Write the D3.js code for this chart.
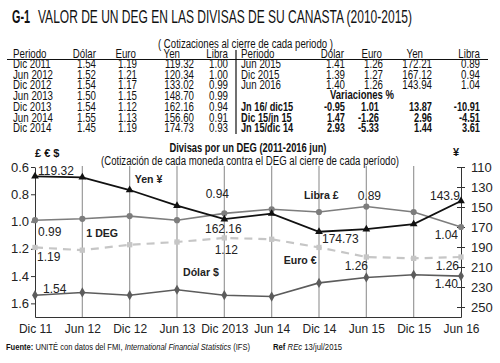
<!DOCTYPE html>
<html>
<head>
<meta charset="utf-8">
<script src="https://cdn.jsdelivr.net/npm/d3@7"></script>
<style>
  body { margin: 0; background: #fff; }
  svg text { font-family: "Liberation Sans", Arial, sans-serif; fill: #111; }
</style>
</head>
<body>
<div id="viz_container"></div>
<script>
// chart data
const periods = ["Dic 11", "Jun 12", "Dic 12", "Jun 13", "Dic 2013", "Jun 14", "Dic 14", "Jun 15", "Dic 15", "Jun 16"];
const yen   = [119.32, 120.34, 133.02, 148.70, 162.16, 156.60, 174.73, 172.21, 167.12, 143.94];
const libra = [0.99, 0.98, 0.96, 0.99, 0.94, 0.91, 0.93, 0.89, 0.93, 1.04];
const euro  = [1.19, 1.21, 1.17, 1.15, 1.12, 1.13, 1.19, 1.26, 1.27, 1.26];
const dolar = [1.54, 1.52, 1.54, 1.50, 1.54, 1.55, 1.45, 1.41, 1.39, 1.40];
const leftTicks  = [0.6, 0.8, 1.0, 1.2, 1.4, 1.6];
const rightTicks = [110, 130, 150, 170, 190, 210, 230, 250];

// table data
const tHead    = ["Periodo", "Dólar", "Euro", "Yen", "Libra"];
const tPeriods = ["Dic 2011", "Jun 2012", "Dic 2012", "Jun 2013", "Dic 2013", "Jun 2014", "Dic 2014"];
const tDolar   = ["1.54", "1.52", "1.54", "1.50", "1.54", "1.55", "1.45"];
const tEuro    = ["1.19", "1.21", "1.17", "1.15", "1.12", "1.13", "1.19"];
const tYen     = ["119.32", "120.34", "133.02", "148.70", "162.16", "156.60", "174.73"];
const tLibra   = ["1.00", "1.00", "0.99", "0.99", "0.94", "0.91", "0.93"];
const t2Periods = ["Jun 2015", "Dic 2015", "Jun 2016"];
const t2Dolar   = ["1.41", "1.39", "1.40"];
const t2Euro    = ["1.26", "1.27", "1.26"];
const t2Yen     = ["172.21", "167.12", "143.94"];
const t2Libra   = ["0.89", "0.94", "1.04"];
const varPeriods = ["Jn 16/ dic15", "Dic 15/jn 15", "Jn 15/dic 14"];
const varDolar   = ["-0.95", "1.47", "2.93"];
const varEuro    = ["1.01", "-1.26", "-5.33"];
const varYen     = ["13.87", "2.96", "1.44"];
const varLibra   = ["-10.91", "-4.51", "3.61"];

const W = 500, H = 363;
const svg = d3.select("#viz_container")
  .append("svg")
    .attr("width", W)
    .attr("height", H);

// squeeze text horizontally, the source uses a condensed face
function condense(sel, f) {
  sel.each(function() {
    const L = this.getComputedTextLength();
    d3.select(this).attr("textLength", L * f).attr("lengthAdjust", "spacingAndGlyphs");
  });
}

// ---- title
svg.append("text")
    .attr("x", 12).attr("y", 23)
    .style("font-size", "19px").style("font-weight", "bold")
    .attr("textLength", 18).attr("lengthAdjust", "spacingAndGlyphs")
  .text("G-1");
svg.append("text")
    .attr("x", 38).attr("y", 23)
    .style("font-size", "18.5px")
    .attr("textLength", 374).attr("lengthAdjust", "spacingAndGlyphs")
  .text("VALOR DE UN DEG EN LAS  DIVISAS DE SU CANASTA (2010-2015)");

svg.append("text")
    .attr("x", 158).attr("y", 48)
    .style("font-size", "12.5px")
    .attr("textLength", 175).attr("lengthAdjust", "spacingAndGlyphs")
  .text("( Cotizaciones al cierre de cada periodo )");

// ---- table
const rowY = i => 68 + i * 10.7;
const tfs = "12.8px";
const cf = 0.76;

svg.append("line")
    .attr("x1", 7).attr("x2", 488).attr("y1", 59.5).attr("y2", 59.5)
    .attr("stroke", "#111").attr("stroke-width", 1);
svg.append("line")
    .attr("x1", 236).attr("x2", 236).attr("y1", 50).attr("y2", 134)
    .attr("stroke", "#111").attr("stroke-width", 1.2);

function header(xs) {
  tHead.forEach((h, k) => {
    svg.append("text")
        .attr("x", xs[k]).attr("y", 58)
        .attr("text-anchor", k === 0 ? "start" : "end")
        .style("font-size", tfs)
      .text(h)
      .call(condense, cf);
  });
}
header([13, 96, 136, 180, 228]);
header([241, 344, 382, 423, 480]);

function column(vals, x, anchor, start, bold) {
  svg.append("g").selectAll("text")
    .data(vals)
    .join("text")
      .attr("x", x)
      .attr("y", (d, i) => rowY(i + start))
      .attr("text-anchor", anchor)
      .style("font-size", tfs)
      .style("font-weight", bold ? "bold" : "normal")
    .text(d => d)
    .call(condense, bold ? 0.72 : cf);
}
column(tPeriods, 13, "start", 0);
column(tDolar, 96, "end", 0);
column(tEuro, 137, "end", 0);
column(tYen, 194, "end", 0);
column(tLibra, 228, "end", 0);

column(t2Periods, 241, "start", 0);
column(t2Dolar, 345, "end", 0);
column(t2Euro, 383, "end", 0);
column(t2Yen, 432, "end", 0);
column(t2Libra, 480, "end", 0);

svg.append("text")
    .attr("x", 362).attr("y", rowY(3) - 1)
    .attr("text-anchor", "middle")
    .style("font-size", tfs).style("font-weight", "bold")
    .attr("textLength", 64).attr("lengthAdjust", "spacingAndGlyphs")
  .text("Variaciones %");
column(varPeriods, 241, "start", 4, true);
column(varDolar, 345, "end", 4, true);
column(varEuro, 379, "end", 4, true);
column(varYen, 432, "end", 4, true);
column(varLibra, 480, "end", 4, true);

// ---- chart
const x = d3.scalePoint().domain(periods).range([35, 461]);
const yL = d3.scaleLinear().domain([0.6, 1.7]).range([167, 317]);
const yR = d3.scaleLinear().domain([110, 260]).range([167, 317]);

svg.append("text")
    .attr("x", 248).attr("y", 151.5)
    .attr("text-anchor", "middle")
    .style("font-size", "13px").style("font-weight", "bold")
    .attr("textLength", 157).attr("lengthAdjust", "spacingAndGlyphs")
  .text("Divisas por un DEG (2011-2016 jun)");
svg.append("text")
    .attr("x", 250).attr("y", 165)
    .attr("text-anchor", "middle")
    .style("font-size", "12.5px")
    .attr("textLength", 298).attr("lengthAdjust", "spacingAndGlyphs")
  .text("(Cotización de cada moneda contra el DEG al cierre de cada período)");

svg.append("text")
    .attr("x", 35).attr("y", 157)
    .style("font-size", "11px").style("font-weight", "bold")
  .text("£ € $");
svg.append("text")
    .attr("x", 456).attr("y", 156)
    .attr("text-anchor", "middle")
    .style("font-size", "11px").style("font-weight", "bold")
  .text("¥");

// vertical grid
svg.append("g")
  .selectAll("line")
  .data(periods.slice(1, -1))
  .join("line")
    .attr("x1", d => x(d)).attr("x2", d => x(d))
    .attr("y1", 166).attr("y2", yL(1.7))
    .attr("stroke", "#9a9a9a").attr("stroke-width", 1.2);

// axes
svg.append("g")
    .attr("transform", "translate(35,0)")
  .call(d3.axisLeft(yL).tickValues(leftTicks).tickSize(4).tickSizeOuter(0).tickPadding(2).tickFormat(d3.format(".1f")))
  .call(g => g.selectAll("text").style("font-size", "13px").style("fill", "#222"))
  .call(g => g.selectAll("line,path").attr("stroke", "#333"));

svg.append("g")
    .attr("transform", "translate(461,0)")
  .call(d3.axisRight(yR).tickValues(rightTicks).tickSize(4).tickSizeOuter(0).tickPadding(6))
  .call(g => g.selectAll(".tick line").attr("x1", -4))
  .call(g => g.selectAll("text").style("font-size", "13px").style("fill", "#222"))
  .call(g => g.selectAll("line,path").attr("stroke", "#333"));

svg.append("g")
    .attr("transform", `translate(0,${yL(1.7)})`)
  .call(d3.axisBottom(x).tickSize(0).tickPadding(7))
  .call(g => g.selectAll("text").style("font-size", "12px").style("fill", "#222"))
  .call(g => g.select(".domain").attr("stroke", "#333").attr("stroke-width", 1.2));

// series
const series = [
  {key: "dolar", vals: dolar, y: yL, color: "#5c5c5c", width: 1.6, dash: null, sym: d3.symbolDiamond, size: 30},
  {key: "euro",  vals: euro,  y: yL, color: "#c6c6c6", width: 2.2, dash: "8,6", sym: d3.symbolSquare, size: 28},
  {key: "libra", vals: libra, y: yL, color: "#7d7d7d", width: 1.6, dash: null, sym: d3.symbolCircle, size: 30},
  {key: "yen",   vals: yen,   y: yR, color: "#111111", width: 1.8, dash: null, sym: d3.symbolTriangle, size: 26}
];

series.forEach(s => {
  const pts = s.vals.map((v, i) => [x(periods[i]), s.y(v)]);
  svg.append("path")
      .attr("d", d3.line()(pts))
      .attr("fill", "none")
      .attr("stroke", s.color)
      .attr("stroke-width", s.width)
      .attr("stroke-dasharray", s.dash);
  svg.append("g")
    .selectAll("path")
    .data(pts)
    .join("path")
      .attr("transform", d => `translate(${d[0]},${d[1]})`)
      .attr("d", d3.symbol().type(s.sym).size(s.size))
      .attr("fill", s.color);
});

// labels tied to data points
const byKey = Object.fromEntries(series.map(s => [s.key, s]));
const notes = [
  {t: "119.32", s: "yen",   i: 0, dx: 3,   dy: -1.5, a: "start"},
  {t: "Yen ¥",  s: "yen",   i: 2, dx: 5,   dy: -7,   a: "start", b: true},
  {t: "0.94",   s: "libra", i: 4, dx: -7,  dy: -15,  a: "middle"},
  {t: "Libra £",s: "libra", i: 6, dx: -15, dy: -13,  a: "start", b: true},
  {t: "0.89",   s: "libra", i: 7, dx: 3,   dy: -7,   a: "middle"},
  {t: "143.9",  s: "yen",   i: 9, dx: -1,  dy: -1,   a: "end"},
  {t: "0.99",   s: "libra", i: 0, dx: 3,   dy: 16,   a: "start"},
  {t: "1 DEG",  s: "libra", i: 1, dx: 4,   dy: 18,   a: "start", b: true},
  {t: "162.16", s: "yen",   i: 4, dx: -1,  dy: 14,   a: "middle"},
  {t: "1.04",   s: "libra", i: 9, dx: -3,  dy: 12,   a: "end"},
  {t: "174.73", s: "yen",   i: 6, dx: 3,   dy: 11,   a: "start"},
  {t: "1.19",   s: "euro",  i: 0, dx: 2,   dy: 14,   a: "start"},
  {t: "1.12",   s: "euro",  i: 4, dx: 2,   dy: 16,   a: "middle"},
  {t: "Dólar $",s: "dolar", i: 3, dx: 6,   dy: -14,  a: "start", b: true},
  {t: "Euro €", s: "euro",  i: 5, dx: 12,  dy: 24.5, a: "start", b: true},
  {t: "1.26",   s: "euro",  i: 7, dx: -10, dy: 13,   a: "middle"},
  {t: "1.26",   s: "euro",  i: 9, dx: -2,  dy: 13,   a: "end"},
  {t: "1.54",   s: "dolar", i: 0, dx: 8,   dy: -2,   a: "start"},
  {t: "1.40",   s: "dolar", i: 9, dx: -3,  dy: 12,   a: "end"}
];
svg.append("g")
  .selectAll("text")
  .data(notes)
  .join("text")
    .attr("x", d => x(periods[d.i]) + d.dx)
    .attr("y", d => byKey[d.s].y(byKey[d.s].vals[d.i]) + d.dy)
    .attr("text-anchor", d => d.a)
    .style("font-size", d => d.b ? "11.5px" : "12px")
    .style("font-weight", d => d.b ? "bold" : "normal")
    .style("fill", "#222")
  .text(d => d.t)
  .filter(d => d.b)
  .call(condense, 0.92);

// ---- source
const src = svg.append("text")
    .attr("x", 6).attr("y", 350)
    .style("font-size", "9px")
    .attr("textLength", 244).attr("lengthAdjust", "spacingAndGlyphs");
src.append("tspan").style("font-weight", "bold").text("Fuente: ");
src.append("tspan").text("UNITÉ con datos del FMI, ");
src.append("tspan").style("font-style", "italic").text("International Financial Statistics");
src.append("tspan").text("  (IFS)");

const ref = svg.append("text")
    .attr("x", 273).attr("y", 350)
    .style("font-size", "9px")
    .attr("textLength", 69).attr("lengthAdjust", "spacingAndGlyphs");
ref.append("tspan").style("font-weight", "bold").text("Ref ");
ref.append("tspan").style("font-style", "italic").text("REc ");
ref.append("tspan").text("13/jul/2015");
</script>
</body>
</html>
